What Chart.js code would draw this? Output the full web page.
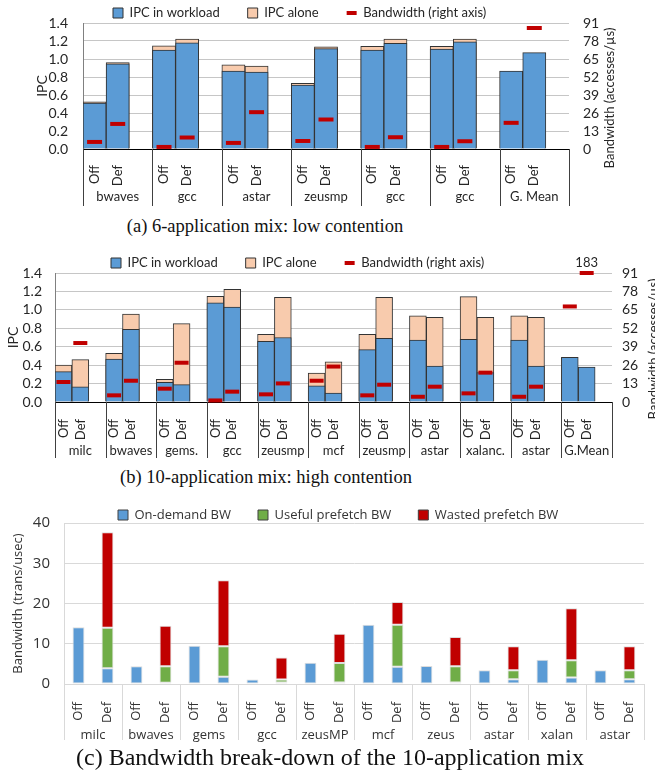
<!DOCTYPE html>
<html>
<head>
<meta charset="utf-8">
<script src="https://cdn.jsdelivr.net/npm/chart.js@4.4.1/dist/chart.umd.min.js"></script>
<style>
  body { margin: 0; background: #fff; }
  #page { position: relative; width: 655px; height: 779px; overflow: hidden; background: #fff; }
  canvas { position: absolute; left: 0; }
  .cap { position: absolute; width: 560px; text-align: center; font-family: "Liberation Serif", serif; color: #111; white-space: nowrap; }
</style>
</head>
<body>
<div id="page">
  <canvas id="chartA" width="655" height="212" style="top:0px"></canvas>
  <div class="cap" style="left:-15px; top:216px; font-size:18.5px; line-height:20px;">(a) 6-application mix: low contention</div>
  <canvas id="chartB" width="655" height="212" style="top:248px"></canvas>
  <div class="cap" style="left:-14px; top:467px; font-size:18.5px; line-height:20px;">(b) 10-application mix: high contention</div>
  <canvas id="chartC" width="655" height="245" style="top:500px"></canvas>
  <div class="cap" style="left:50px; top:743px; font-size:24px; line-height:28px;">(c) Bandwidth break-down of the 10-application mix</div>
</div>
<script>
// (a) 6-application mix, values listed as Off, Def per group
const aGroups = ['bwaves', 'gcc', 'astar', 'zeusmp', 'gcc', 'gcc', 'G. Mean'];
const aIpcWorkload = [0.51, 0.945, 1.10, 1.18, 0.865, 0.855, 0.71, 1.115, 1.10, 1.175, 1.11, 1.19, 0.865, 1.07];
const aIpcAlone = [0.525, 0.96, 1.145, 1.22, 0.935, 0.92, 0.73, 1.135, 1.14, 1.22, 1.14, 1.22, null, null];
const aBandwidth = [5.1, 18.1, 1.5, 8.3, 4.4, 26.6, 5.8, 21.3, 1.5, 8.5, 1.5, 5.6, 18.9, 87.4];

// (b) 10-application mix
const bGroups = ['milc', 'bwaves', 'gems.', 'gcc', 'zeusmp', 'mcf', 'zeusmp', 'astar', 'xalanc.', 'astar', 'G.Mean'];
const bIpcWorkload = [0.33, 0.165, 0.467, 0.79, 0.213, 0.188, 1.075, 1.03, 0.658, 0.70, 0.176, 0.098, 0.568, 0.69, 0.673, 0.39, 0.68, 0.318, 0.673, 0.39, 0.484, 0.38];
const bIpcAlone = [0.40, 0.46, 0.528, 0.955, 0.245, 0.85, 1.147, 1.223, 0.734, 1.136, 0.313, 0.435, 0.734, 1.136, 0.934, 0.919, 1.143, 0.919, 0.934, 0.919, null, null];
const bBandwidth = [14.1, 41.6, 4.7, 15.0, 9.4, 27.7, 1.1, 7.3, 5.4, 13.1, 15.0, 25.0, 4.7, 12.2, 3.7, 10.8, 6.1, 20.7, 3.7, 10.8, 67.4, 183];

// (c) bandwidth break-down
const cGroups = ['milc', 'bwaves', 'gems', 'gcc', 'zeusMP', 'mcf', 'zeus', 'astar', 'xalan', 'astar'];
const cOnDemand = [14.1, 3.9, 4.4, 0.3, 9.5, 1.8, 1.1, 0.4, 5.3, 0.4, 14.7, 4.3, 4.5, 0.4, 3.4, 1.15, 6.0, 1.6, 3.4, 1.15];
const cUseful = [null, 10.1, null, 4.1, null, 7.6, null, 0.7, null, 4.8, null, 10.4, null, 4.0, null, 2.25, null, 4.3, null, 2.25];
const cWasted = [null, 23.7, null, 10.1, null, 16.4, null, 5.5, null, 7.3, null, 5.7, null, 7.3, null, 6.0, null, 12.9, null, 6.0];

const BW_MAX = 91;
const BLUE = '#5b9bd5', PEACH = '#f8cbad', RED = '#c00000', GREEN = '#70ad47', INK = '#262626';

Chart.defaults.font.family = 'Lato';
Chart.defaults.font.size = 13;
Chart.defaults.color = INK;
Chart.defaults.animation = false;
Chart.defaults.responsive = false;
Chart.defaults.events = [];

// Off, Def, then an empty slot between groups
function spread(values) {
  const out = [];
  for (let i = 0; i < values.length; i += 2) out.push(values[i], values[i + 1], null);
  return out;
}

// multi-level category axis, legend placement, right title, off-scale labels
function groupAxis(cfg) {
  return {
    id: 'groupAxis',
    beforeLayout(chart) {
      const lg = chart.legend;
      if (!lg || lg._patched) return;
      const fit = lg.fit;
      lg.fit = function () { fit.call(this); this.height = cfg.legendH; };
      lg._patched = true;
    },
    afterLayout(chart) {
      const lg = chart.legend;
      const pad = lg.options.labels.padding;
      lg.left = cfg.legendX - pad;
      lg.right = chart.width;
      lg.width = lg.right - lg.left;
      lg.top = cfg.legendY - pad - 6.5;
      lg.bottom = cfg.legendY + 12;
      lg.height = lg.bottom - lg.top;
    },
    afterDraw(chart) {
      const ctx = chart.ctx, ca = chart.chartArea, x = chart.scales.x;
      const slot = x.getPixelForValue(1) - x.getPixelForValue(0);
      ctx.save();
      ctx.strokeStyle = cfg.lineColor;
      ctx.lineWidth = 1;
      ctx.beginPath();
      for (let g = 0; g <= cfg.groups.length; g++) {
        const px = Math.round(x.getPixelForValue(g * cfg.size) - slot / 2) + 0.5;
        ctx.moveTo(px, ca.bottom);
        ctx.lineTo(px, cfg.lineEnd);
      }
      ctx.stroke();
      ctx.fillStyle = cfg.color;
      ctx.font = cfg.font;
      ctx.textAlign = 'center';
      ctx.textBaseline = 'middle';
      cfg.groups.forEach((name, g) => {
        const l = x.getPixelForValue(g * cfg.size) - slot / 2;
        ctx.fillText(name, l + slot * cfg.size / 2, cfg.labelY);
      });
      if (cfg.raw) {
        const pts = chart.getDatasetMeta(2).data;
        cfg.raw.forEach((v, i) => {
          if (v != null && v > BW_MAX) ctx.fillText(String(v), pts[i].x, pts[i].y - 10);
        });
      }
      if (cfg.rightTitle) {
        ctx.translate(cfg.rightTitle.x, cfg.rightTitle.y);
        ctx.rotate(-Math.PI / 2);
        ctx.fillText(cfg.rightTitle.text, 0, 0);
      }
      ctx.restore();
    }
  };
}

function ipcChart(id, groups, workload, alone, bandwidth, lay) {
  const raw = spread(bandwidth);
  return new Chart(document.getElementById(id), {
    type: 'bar',
    data: {
      labels: groups.flatMap(() => ['Off', 'Def', '']),
      datasets: [
        { label: 'IPC in workload', data: spread(workload), backgroundColor: BLUE, borderColor: '#333',
          borderWidth: 1, grouped: false, barPercentage: 1, categoryPercentage: 1, pointStyle: 'rect' },
        { label: 'IPC alone', data: spread(alone), backgroundColor: PEACH, borderColor: '#333',
          borderWidth: 1, grouped: false, barPercentage: 1, categoryPercentage: 1, pointStyle: 'rect' },
        { type: 'line', label: 'Bandwidth (right axis)', yAxisID: 'y2', order: -1, clip: false,
          data: raw.map(v => v == null ? null : Math.min(v, BW_MAX)),
          showLine: false, pointStyle: 'line', pointRadius: lay.mark, pointHoverRadius: lay.mark,
          pointBorderWidth: 4, pointBorderColor: RED, borderColor: RED, backgroundColor: RED }
      ]
    },
    options: {
      layout: { padding: 0 },
      plugins: {
        tooltip: { enabled: false },
        legend: {
          align: 'start',
          labels: { usePointStyle: true, pointStyleWidth: 10, boxWidth: 10, boxHeight: 10, padding: 28,
            color: INK, font: { size: 13 }, sort: (a, b) => a.datasetIndex - b.datasetIndex }
        }
      },
      scales: {
        x: {
          grid: { display: false },
          border: { display: true, color: '#000' },
          ticks: { autoSkip: false, minRotation: 90, maxRotation: 90, padding: lay.xPad, color: INK, font: { size: 13 } },
          afterFit: s => { s.height = lay.xH; }
        },
        y: {
          min: 0, max: 1.4,
          ticks: { stepSize: 0.2, autoSkip: false, padding: lay.yPad, color: INK, font: { size: 14, lineHeight: 1 }, callback: v => v.toFixed(1) },
          grid: { color: '#c6c6c6', drawTicks: false },
          border: { display: true, color: '#808080' },
          title: { display: true, text: 'IPC', color: INK, font: { size: 14 }, padding: { top: lay.yTitlePad, bottom: 0 } },
          afterFit: s => { s.width = lay.yW; }
        },
        y2: {
          position: 'right', min: 0, max: BW_MAX,
          ticks: { stepSize: 13, autoSkip: false, padding: lay.y2Pad, color: INK, font: { size: 14, lineHeight: 1 } },
          grid: { display: false, drawTicks: false },
          border: { display: false },
          afterFit: s => { s.width = lay.y2W; }
        }
      }
    },
    plugins: [groupAxis({
      groups, size: 3, lineColor: '#404040', lineEnd: lay.lineEnd, labelY: lay.labelY,
      font: '13px Lato', color: INK, legendH: lay.legendH, legendX: lay.legendX, legendY: lay.legendY,
      rightTitle: { text: 'Bandwidth (accesses/\u00b5s)', x: lay.rtX, y: lay.rtY },
      raw
    })]
  });
}

ipcChart('chartA', aGroups, aIpcWorkload, aIpcAlone, aBandwidth, {
  mark: 7.5, xPad: 8, xH: 63, yPad: 15, yW: 83, yTitlePad: 34, y2Pad: 14, y2W: 86,
  lineEnd: 206, labelY: 197, legendH: 23, legendX: 113, legendY: 13, rtX: 610, rtY: 98
});

ipcChart('chartB', bGroups, bIpcWorkload, bIpcAlone, bBandwidth, {
  mark: 7, xPad: 9, xH: 58, yPad: 13, yW: 55, yTitlePad: 5, y2Pad: 10, y2W: 43,
  lineEnd: 210, labelY: 203, legendH: 25, legendX: 111, legendY: 15, rtX: 654, rtY: 101
});

const FC = 'Open Sans';
new Chart(document.getElementById('chartC'), {
  type: 'bar',
  data: {
    labels: cGroups.flatMap(() => ['Off', 'Def']),
    datasets: [
      { label: 'On-demand BW', data: cOnDemand, backgroundColor: BLUE },
      { label: 'Useful prefetch BW', data: cUseful, backgroundColor: GREEN },
      { label: 'Wasted prefetch BW', data: cWasted, backgroundColor: RED }
    ]
  },
  options: {
    layout: { padding: 0 },
    datasets: { bar: { borderColor: '#dcdcdc', borderWidth: 1, borderSkipped: false, barPercentage: 0.41, categoryPercentage: 1, pointStyle: 'rect' } },
    plugins: {
      tooltip: { enabled: false },
      legend: {
        align: 'start',
        labels: {
          usePointStyle: true, pointStyleWidth: 10, boxWidth: 10, boxHeight: 10, padding: 27,
          color: '#333', font: { family: FC, size: 13 },
          generateLabels: chart => Chart.defaults.plugins.legend.labels.generateLabels(chart)
            .map(l => Object.assign(l, { strokeStyle: '#404040', lineWidth: 1 }))
        }
      }
    },
    scales: {
      x: {
        stacked: true,
        grid: { display: false },
        border: { display: true, color: '#d9d9d9' },
        ticks: { autoSkip: false, minRotation: 90, maxRotation: 90, padding: 10, color: '#333', font: { family: FC, size: 13 } },
        afterFit: s => { s.height = 61; }
      },
      y: {
        stacked: true, min: 0, max: 40,
        ticks: { stepSize: 10, autoSkip: false, padding: 14, color: '#333', font: { family: FC, size: 15 } },
        grid: { color: '#d9d9d9', drawTicks: false },
        border: { display: true, color: '#d9d9d9' },
        title: { display: true, text: 'Bandwidth (trans/usec)', color: '#333', font: { family: FC, size: 13 }, padding: { top: 10, bottom: 0 } },
        afterFit: s => { s.width = 64; }
      }
    }
  },
  plugins: [groupAxis({
    groups: cGroups, size: 2, lineColor: '#d9d9d9', lineEnd: 240, labelY: 235,
    font: '13px "Open Sans"', color: '#333', legendH: 22, legendX: 118, legendY: 15
  })]
});
</script>
</body>
</html>
